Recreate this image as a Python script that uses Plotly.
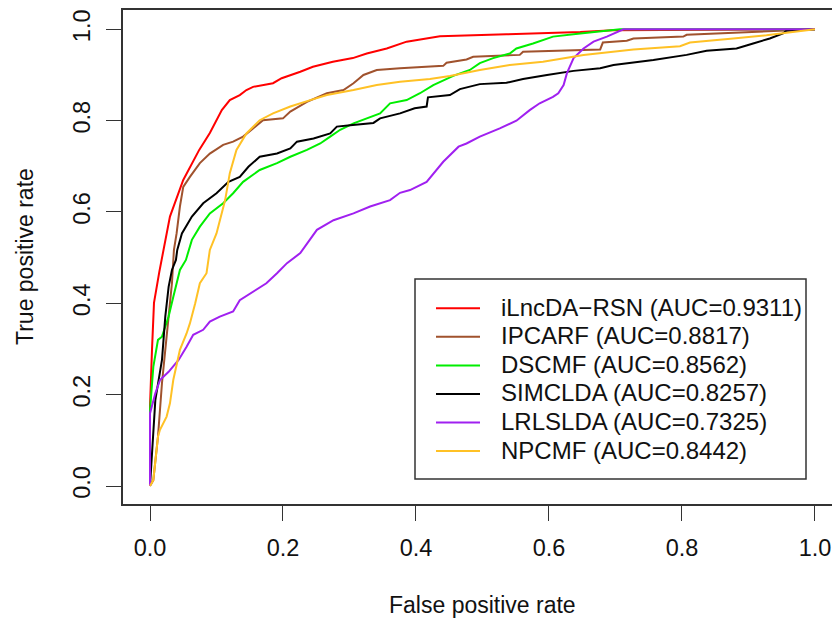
import plotly.graph_objects as go

# ---------------- data (FPR, TPR) ----------------
methods = ["iLncDA\u2212RSN", "IPCARF", "DSCMF", "SIMCLDA", "LRLSLDA", "NPCMF"]
auc = ["0.9311", "0.8817", "0.8562", "0.8257", "0.7325", "0.8442"]
colors = ["#FF0000", "#A0522D", "#00EE00", "#000000", "#A020F0", "#FFC125"]

red_fpr = [0.0, 0.000, 0.003, 0.006, 0.014, 0.020, 0.030, 0.050, 0.058, 0.074, 0.090, 0.108, 0.120, 0.135,
           0.145, 0.155, 0.185, 0.198, 0.226, 0.245, 0.275, 0.305, 0.326, 0.356, 0.386, 0.416, 0.436, 0.536,
           0.597, 0.647, 0.696, 1.0]
red_tpr = [0.0, 0.174, 0.298, 0.401, 0.469, 0.517, 0.590, 0.670, 0.692, 0.736, 0.773, 0.823, 0.845, 0.856,
           0.867, 0.874, 0.882, 0.893, 0.907, 0.918, 0.929, 0.937, 0.947, 0.958, 0.973, 0.980, 0.985, 0.989,
           0.991, 0.994, 0.998, 1.0]

brown_fpr = [0.0, 0.005, 0.012, 0.018, 0.023, 0.028, 0.033, 0.036, 0.040, 0.045, 0.050, 0.060, 0.075, 0.090,
             0.110, 0.125, 0.140, 0.155, 0.170, 0.200, 0.211, 0.236, 0.266, 0.291, 0.306, 0.321, 0.341, 0.376,
             0.441, 0.446, 0.476, 0.486, 0.556, 0.561, 0.677, 0.681, 0.717, 0.727, 0.802, 0.807, 0.957, 1.0]
brown_tpr = [0.0, 0.013, 0.108, 0.225, 0.298, 0.371, 0.444, 0.517, 0.553, 0.612, 0.655, 0.677, 0.707, 0.728,
             0.747, 0.754, 0.765, 0.783, 0.801, 0.805, 0.820, 0.841, 0.860, 0.867, 0.882, 0.900, 0.911, 0.915,
             0.920, 0.927, 0.934, 0.940, 0.944, 0.951, 0.956, 0.971, 0.975, 0.980, 0.984, 0.988, 0.997, 1.0]

green_fpr = [0.0, 0.000, 0.005, 0.012, 0.018, 0.028, 0.035, 0.045, 0.054, 0.058, 0.063, 0.075, 0.090, 0.110,
             0.125, 0.140, 0.165, 0.191, 0.211, 0.236, 0.256, 0.271, 0.286, 0.306, 0.326, 0.346, 0.361, 0.386,
             0.406, 0.426, 0.456, 0.481, 0.496, 0.516, 0.541, 0.551, 0.576, 0.606, 0.647, 0.682, 0.707, 1.0]
green_tpr = [0.0, 0.166, 0.261, 0.320, 0.327, 0.371, 0.414, 0.473, 0.495, 0.517, 0.539, 0.568, 0.597, 0.619,
             0.641, 0.666, 0.692, 0.707, 0.721, 0.736, 0.750, 0.765, 0.780, 0.794, 0.805, 0.816, 0.838, 0.845,
             0.860, 0.878, 0.898, 0.911, 0.926, 0.937, 0.947, 0.958, 0.969, 0.984, 0.991, 0.997, 1.0, 1.0]

black_fpr = [0.0, 0.003, 0.008, 0.018, 0.023, 0.028, 0.033, 0.039, 0.041, 0.048, 0.063, 0.080, 0.100, 0.118,
             0.135, 0.148, 0.165, 0.191, 0.211, 0.221, 0.246, 0.271, 0.281, 0.301, 0.336, 0.346, 0.376, 0.398,
             0.416, 0.418, 0.451, 0.466, 0.496, 0.536, 0.561, 0.597, 0.637, 0.677, 0.697, 0.757, 0.807, 0.837,
             0.882, 0.907, 0.932, 0.952, 0.957, 1.0]
black_tpr = [0.0, 0.079, 0.188, 0.276, 0.371, 0.436, 0.473, 0.495, 0.517, 0.553, 0.590, 0.619, 0.641, 0.666,
             0.677, 0.699, 0.721, 0.728, 0.739, 0.754, 0.761, 0.772, 0.787, 0.790, 0.795, 0.805, 0.816, 0.827,
             0.831, 0.851, 0.856, 0.869, 0.880, 0.883, 0.891, 0.900, 0.909, 0.915, 0.922, 0.933, 0.944, 0.953,
             0.958, 0.969, 0.980, 0.991, 0.997, 1.0]

purple_fpr = [0.0, 0.000, 0.008, 0.015, 0.028, 0.043, 0.055, 0.065, 0.080, 0.090, 0.105, 0.125, 0.135, 0.155,
              0.175, 0.191, 0.206, 0.226, 0.236, 0.251, 0.276, 0.306, 0.331, 0.361, 0.376, 0.391, 0.416, 0.431,
              0.441, 0.464, 0.476, 0.496, 0.526, 0.551, 0.571, 0.586, 0.606, 0.614, 0.622, 0.627, 0.637, 0.652,
              0.667, 0.687, 0.707, 0.712, 1.0]
purple_tpr = [0.0, 0.159, 0.203, 0.232, 0.250, 0.276, 0.305, 0.331, 0.342, 0.360, 0.371, 0.382, 0.407, 0.425,
              0.444, 0.466, 0.488, 0.510, 0.531, 0.561, 0.582, 0.597, 0.612, 0.626, 0.642, 0.648, 0.666, 0.692,
              0.710, 0.743, 0.750, 0.765, 0.783, 0.800, 0.823, 0.838, 0.852, 0.860, 0.878, 0.904, 0.937, 0.958,
              0.973, 0.984, 0.997, 1.0, 1.0]

yellow_fpr = [0.0, 0.005, 0.012, 0.015, 0.025, 0.030, 0.035, 0.045, 0.055, 0.060, 0.068, 0.075, 0.085, 0.088,
              0.090, 0.100, 0.113, 0.120, 0.130, 0.145, 0.165, 0.185, 0.211, 0.241, 0.266, 0.306, 0.341, 0.376,
              0.421, 0.451, 0.496, 0.541, 0.591, 0.652, 0.727, 0.797, 0.812, 0.877, 0.927, 1.0]
yellow_tpr = [0.0, 0.013, 0.108, 0.123, 0.152, 0.181, 0.232, 0.298, 0.334, 0.356, 0.400, 0.444, 0.466, 0.495,
              0.517, 0.553, 0.626, 0.685, 0.736, 0.772, 0.801, 0.816, 0.831, 0.845, 0.856, 0.867, 0.878, 0.885,
              0.891, 0.898, 0.911, 0.922, 0.929, 0.944, 0.956, 0.963, 0.971, 0.980, 0.987, 1.0]

series_x = [red_fpr, brown_fpr, green_fpr, black_fpr, purple_fpr, yellow_fpr]
series_y = [red_tpr, brown_tpr, green_tpr, black_tpr, purple_tpr, yellow_tpr]

tick_vals = [0.0, 0.2, 0.4, 0.6, 0.8, 1.0]
tick_text = ["0.0", "0.2", "0.4", "0.6", "0.8", "1.0"]

# ---------------- layout geometry (pixels) ----------------
W, H = 832, 621
ML, MR, MT, MB = 123, 0, 10, 117
PW, PH = W - ML - MR, H - MT - MB


def px_x(p):
    return (p - ML) / PW


def px_y(p):
    return (H - MB - p) / PH


FONT = "Liberation Sans, Arial, sans-serif"
AX = "#333333"

fig = go.Figure()
for name, a, c, xs, ys in zip(methods, auc, colors, series_x, series_y):
    fig.add_trace(go.Scatter(x=xs, y=ys, mode="lines", name=f"{name} (AUC={a})",
                             line=dict(color=c, width=2), showlegend=False))

# manual R-style legend
shapes = [dict(type="rect", xref="paper", yref="paper",
               x0=px_x(415), x1=px_x(806), y0=px_y(479), y1=px_y(279),
               line=dict(color=AX, width=1.5), fillcolor="white", layer="above")]
annotations = []
row0, step = 308.3, 28.55
for i, (name, a, c) in enumerate(zip(methods, auc, colors)):
    yy = px_y(row0 + i * step)
    shapes.append(dict(type="line", xref="paper", yref="paper",
                       x0=px_x(436), x1=px_x(480), y0=yy, y1=yy,
                       line=dict(color=c, width=2), layer="above"))
    annotations.append(dict(text=f"{name} (AUC={a})", xref="paper", yref="paper",
                            x=px_x(499), y=px_y(row0 + i * step - 1), xanchor="left", yanchor="middle",
                            showarrow=False, font=dict(family=FONT, size=24, color="#111")))

annotations.append(dict(text="False positive rate", xref="paper", yref="paper",
                        x=px_x(482), y=px_y(605), xanchor="center", yanchor="middle",
                        showarrow=False, font=dict(family=FONT, size=23, color="#111")))
annotations.append(dict(text="True positive rate", xref="paper", yref="paper",
                        x=px_x(25), y=px_y(257), xanchor="center", yanchor="middle", textangle=-90,
                        showarrow=False, font=dict(family=FONT, size=23, color="#111")))

fig.update_layout(
    width=W, height=H,
    margin=dict(l=ML, r=MR, t=MT, b=MB, pad=0),
    paper_bgcolor="white", plot_bgcolor="white",
    font=dict(family=FONT, size=23, color="#111"),
    shapes=shapes, annotations=annotations,
    xaxis=dict(range=[-0.0406, 1.0256], tickvals=tick_vals, ticktext=tick_text,
               ticks="outside", ticklen=15, tickwidth=1.3, tickcolor=AX, ticklabelstandoff=7,
               showline=True, linecolor=AX, linewidth=1.5, mirror=True,
               showgrid=False, zeroline=False, tickfont=dict(size=23.5)),
    yaxis=dict(range=[-0.0394, 1.0423], tickvals=tick_vals, ticktext=tick_text,
               ticks="outside", ticklen=15, tickwidth=1.3, tickcolor=AX, tickangle=-90, ticklabelstandoff=7,
               showline=True, linecolor=AX, linewidth=1.5, mirror=False,
               showgrid=False, zeroline=False, tickfont=dict(size=23.5)),
)

fig.write_html("out.html")
